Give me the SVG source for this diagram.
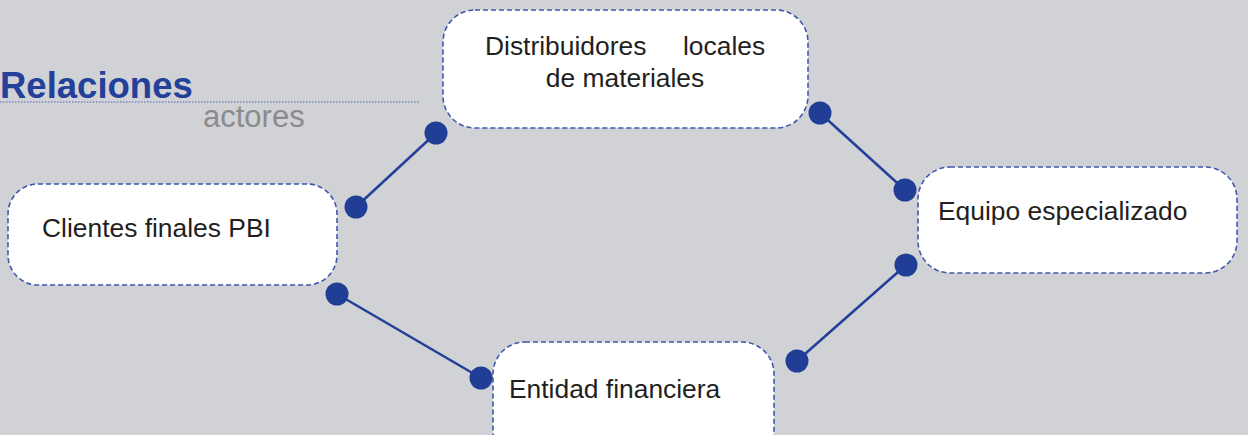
<svg xmlns="http://www.w3.org/2000/svg" width="1248" height="435" viewBox="0 0 1248 435">
<style>
.node{fill:#ffffff;stroke:#3f59ab;stroke-width:1.6;stroke-dasharray:5 3}
.lbl{font-family:"Liberation Sans",Arial,sans-serif;font-size:26.4px;fill:#231f20}
.conn{stroke:#233f97;stroke-width:2.5;fill:none}
.dot{fill:#213e96}
</style>
<rect width="1248" height="435" fill="#d1d2d6"/>
<g id="title">
<text x="0" y="98" font-family="Liberation Sans,Arial,sans-serif" font-weight="bold" font-size="36.5" fill="#23409a">Relaciones</text>
<line x1="0" y1="102" x2="419" y2="102" stroke="#4a62b0" stroke-width="1.2" stroke-dasharray="1.5 1.5"/>
<text x="203" y="127" font-family="Liberation Sans,Arial,sans-serif" font-size="31" fill="#8a8b8e">actores</text>
</g>
<g id="connectors">
<line class="conn" x1="356" y1="207" x2="436" y2="133"/>
<line class="conn" x1="820" y1="113" x2="905" y2="190"/>
<line class="conn" x1="906" y1="265" x2="797" y2="361"/>
<line class="conn" x1="337" y1="294" x2="481" y2="378"/>
<circle class="dot" cx="356" cy="207" r="11.5"/>
<circle class="dot" cx="436" cy="133" r="11.5"/>
<circle class="dot" cx="820" cy="113" r="11.5"/>
<circle class="dot" cx="905" cy="190" r="11.5"/>
<circle class="dot" cx="906" cy="265" r="11.5"/>
<circle class="dot" cx="797" cy="361" r="11.5"/>
<circle class="dot" cx="337" cy="294" r="11.5"/>
<circle class="dot" cx="481" cy="378" r="11.5"/>
</g>
<g id="node-distribuidores">
<rect class="node" x="443" y="10" width="365" height="118" rx="32"/>
<text class="lbl" y="55"><tspan x="485">Distribuidores</tspan><tspan x="683">locales</tspan></text>
<text class="lbl" x="625" y="87" text-anchor="middle">de materiales</text>
</g>
<g id="node-clientes">
<rect class="node" x="8" y="184" width="329" height="101" rx="30"/>
<text class="lbl" x="42" y="237">Clientes finales PBI</text>
</g>
<g id="node-equipo">
<rect class="node" x="918" y="167" width="319" height="106" rx="32"/>
<text class="lbl" x="938" y="220">Equipo especializado</text>
</g>
<g id="node-entidad">
<rect class="node" x="493" y="342" width="281" height="120" rx="32"/>
<text class="lbl" x="509" y="398">Entidad financiera</text>
</g>
</svg>
